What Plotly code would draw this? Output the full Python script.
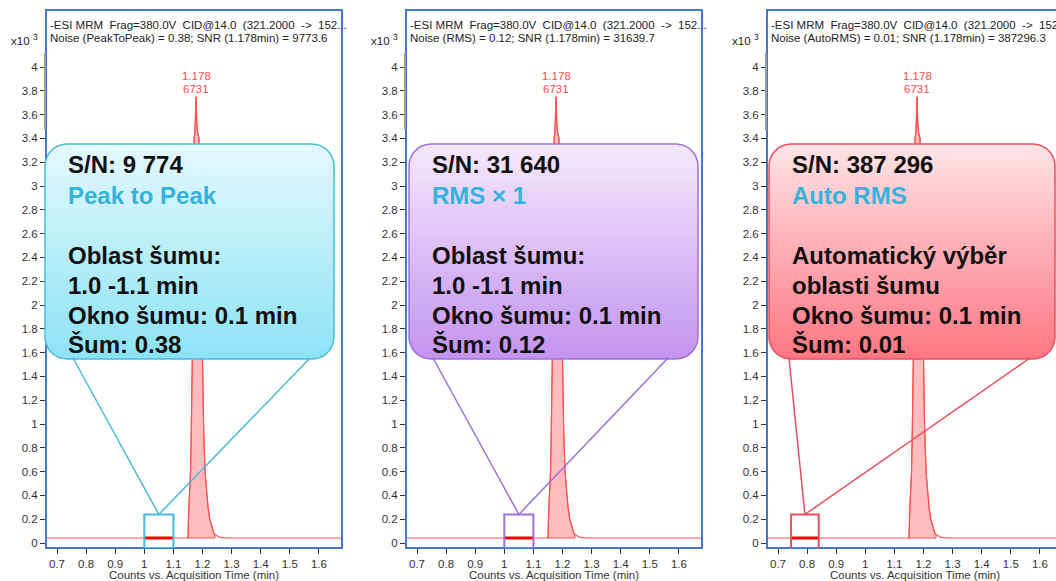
import numpy as np
import plotly.graph_objects as go

W, H = 1056, 581

# ---- chromatogram shared by the three panels (time in min, counts in x10^3) ----
time_min = [0.660, 1.150, 1.152, 1.156, 1.159, 1.162, 1.165, 1.168, 1.171, 1.174,
            1.176, 1.178, 1.180, 1.183, 1.188, 1.193, 1.199, 1.204, 1.209, 1.214,
            1.219, 1.225, 1.232, 1.238, 1.243, 1.250, 1.258, 1.268, 1.283, 1.300, 1.680]
counts_k = [0.042, 0.042, 0.250, 0.450, 0.600, 1.000, 1.550, 2.600, 3.400, 3.450,
            3.550, 3.750, 3.550, 3.450, 3.400, 2.500, 1.550, 0.950, 0.590, 0.420,
            0.300, 0.200, 0.130, 0.090, 0.070, 0.058, 0.050, 0.046, 0.043, 0.042, 0.042]
baseline_k = 0.042
integ_start, integ_end = 1.150, 1.243
rt_apex = 1.178
peak_area = 6731

x_ticks = [0.7, 0.8, 0.9, 1.0, 1.1, 1.2, 1.3, 1.4, 1.5, 1.6]
x_ticklabels = ["0.7", "0.8", "0.9", "1", "1.1", "1.2", "1.3", "1.4", "1.5", "1.6"]
y_ticks = [0, 0.2, 0.4, 0.6, 0.8, 1, 1.2, 1.4, 1.6, 1.8, 2, 2.2, 2.4, 2.6, 2.8,
           3, 3.2, 3.4, 3.6, 3.8, 4]
y_ticklabels = ["0", "0.2", "0.4", "0.6", "0.8", "1", "1.2", "1.4", "1.6", "1.8", "2",
                "2.2", "2.4", "2.6", "2.8", "3", "3.2", "3.4", "3.6", "3.8", "4"]

# ---- noise evaluation per panel ----
noise_methods = ["PeakToPeak", "RMS", "AutoRMS"]
method_titles = ["Peak to Peak", "RMS \u00d7 1", "Auto RMS"]
noise_values = [0.38, 0.12, 0.01]
snr_values = [9773.6, 31639.7, 387296.3]
noise_start = [1.0, 1.0, 0.745]
noise_end = [1.1, 1.1, 0.84]
noise_window = 0.1

# ---- geometry (pixels) ----
panel_left = [46, 406, 767]
panel_w = 296
panel_top, panel_bottom = 10, 548
px_per_min = 291.0
px_per_k = 119.0
x_lo = 0.7 - 11 / px_per_min
y_lo = -5 / px_per_k
y_hi = y_lo + (panel_bottom - panel_top) / px_per_k

box_left = [45, 409, 769]
box_right = [334, 698, 1055]
box_top, box_bottom, box_r = 144, 359, 22
tail_left = [73, 433, 789]
tail_right = [310, 668, 1030]
noise_box_top_k = 0.24

border_cols = ["#4cbadb", "#a070d6", "#e94f5e"]
grad_top = ["#e4f9fd", "#f4e8fc", "#ffe4e7"]
grad_bot = ["#8ce3f6", "#c393ef", "#ff7682"]
accent = "#35b3dc"
frame_col = "#4677cf"
trace_col = "#ff5050"
fill_col = "rgba(255,110,110,0.45)"
font_ui = "Liberation Sans"
small = 11.5


def to_px(i, x, y):
    return (panel_left[i] + (x - x_lo) * px_per_min,
            panel_bottom - (y - y_lo) * px_per_k)


def rounded_rect(x0, y0, x1, y1, r, n=14):
    xs, ys = [], []
    corners = [(x0 + r, y0 + r, 180, 270), (x1 - r, y0 + r, 270, 360),
               (x1 - r, y1 - r, 0, 90), (x0 + r, y1 - r, 90, 180)]
    for cx, cy, a0, a1 in corners:
        a = np.radians(np.linspace(a0, a1, n))
        xs.extend(cx + r * np.cos(a))
        ys.extend(cy + r * np.sin(a))
    xs.append(xs[0]); ys.append(ys[0])
    return xs, ys


def fmt_snr(v):
    return f"{round(v):,}".replace(",", " ")


def label(x, y, text, size=small, color="#222", xanchor="left", weight="normal", **kw):
    return dict(xref="x4", yref="y4", x=x, y=y, xanchor=xanchor, yanchor="middle",
                showarrow=False, text=text,
                font=dict(size=size, color=color, family=font_ui, weight=weight), **kw)


t = np.array(time_min)
c = np.array(counts_k)
mask = (t >= integ_start) & (t <= integ_end)
fill_x = list(t[mask]) + [integ_end, integ_start]
fill_y = list(c[mask]) + [baseline_k, baseline_k]

fig = go.Figure()
layout = dict(width=W, height=H, margin=dict(l=0, r=0, t=0, b=0),
              paper_bgcolor="white", plot_bgcolor="rgba(0,0,0,0)",
              showlegend=False, font=dict(family=font_ui, size=small, color="#333"))
shapes, annos = [], []

for i in range(3):
    sx = "" if i == 0 else str(i + 1)
    xa, ya = "x" + sx, "y" + sx
    right_px = min(panel_left[i] + panel_w, W)
    x_hi = x_lo + (right_px - panel_left[i]) / px_per_min
    layout["xaxis" + sx] = dict(
        domain=[panel_left[i] / W, right_px / W], range=[x_lo, x_hi], anchor=ya,
        tickvals=x_ticks, ticktext=x_ticklabels, ticks="outside", ticklen=5,
        tickcolor="#333", showgrid=False, zeroline=False, showline=False,
        tickfont=dict(size=small, color="#333"), fixedrange=True)
    layout["yaxis" + sx] = dict(
        domain=[1 - panel_bottom / H, 1 - panel_top / H], range=[y_lo, y_hi],
        anchor=xa, tickvals=y_ticks, ticktext=y_ticklabels, ticks="outside",
        ticklen=5, tickcolor="#333", showgrid=False, zeroline=False,
        showline=False, tickfont=dict(size=small, color="#333"), fixedrange=True)

    # integrated peak area and trace
    fig.add_trace(go.Scatter(x=fill_x, y=fill_y, xaxis=xa, yaxis=ya, mode="lines",
                             fill="toself", fillcolor=fill_col,
                             line=dict(color=trace_col, width=1), hoverinfo="skip"))
    fig.add_trace(go.Scatter(x=time_min, y=counts_k, xaxis=xa, yaxis=ya, mode="lines",
                             line=dict(color=trace_col, width=1.2), hoverinfo="skip"))
    # noise region on the baseline
    fig.add_trace(go.Scatter(x=[noise_start[i], noise_end[i]], y=[baseline_k, baseline_k],
                             xaxis=xa, yaxis=ya, mode="lines",
                             line=dict(color="#ff0000", width=3), hoverinfo="skip"))
    shapes.append(dict(type="rect", xref=xa, yref=ya, x0=noise_start[i], x1=noise_end[i],
                       y0=y_lo, y1=noise_box_top_k, line=dict(color=border_cols[i], width=2),
                       layer="above"))

    # peak label (retention time above area)
    apx, apy = to_px(i, rt_apex, max(counts_k))
    annos.append(label(apx, apy - 21, f"{rt_apex:.3f}", color="#ff4a4a", xanchor="center"))
    annos.append(label(apx, apy - 8, f"{peak_area}", color="#ff4a4a", xanchor="center"))

    # frame
    shapes.append(dict(type="rect", xref="x4", yref="y4", x0=panel_left[i],
                       x1=panel_left[i] + panel_w, y0=panel_top, y1=panel_bottom,
                       line=dict(color=frame_col, width=2), layer="below"))
    shapes.append(dict(type="line", xref="x4", yref="y4", x0=panel_left[i] - 1,
                       x1=panel_left[i] - 1, y0=53, y1=130,
                       line=dict(color="#9a9a9a", width=2), layer="below"))

    # header text
    hx = panel_left[i] + 2
    annos.append(label(hx, 25,
                       "-ESI MRM\u00a0 Frag=380.0V\u00a0 CID@14.0\u00a0 (321.2000\u00a0 ->\u00a0 152..."))
    annos.append(label(hx, 38,
                       f"Noise ({noise_methods[i]}) = {noise_values[i]:.2f}; "
                       f"SNR ({rt_apex:.3f}min) = {snr_values[i]:.1f}"))
    annos.append(label(panel_left[i] - 37, 41, "x10"))
    annos.append(label(panel_left[i] - 15, 37, "3", size=8.5))
    annos.append(label(panel_left[i] + panel_w / 2, 575, "Counts vs. Acquisition Time (min)",
                       color="#333", xanchor="center"))

    # callout box
    bx, by = rounded_rect(box_left[i], box_top, box_right[i], box_bottom, box_r)
    fig.add_trace(go.Scatter(x=bx, y=by, xaxis="x4", yaxis="y4", mode="lines",
                             fill="toself", line=dict(color=border_cols[i], width=1.5),
                             fillgradient=dict(type="vertical", start=box_top, stop=box_bottom,
                                               colorscale=[[0, grad_top[i]], [1, grad_bot[i]]]),
                             hoverinfo="skip"))
    tx, ty = to_px(i, (noise_start[i] + noise_end[i]) / 2, noise_box_top_k)
    for ax0 in (tail_left[i], tail_right[i]):
        shapes.append(dict(type="line", xref="x4", yref="y4", x0=ax0, y0=box_bottom - 1,
                           x1=tx, y1=ty, line=dict(color=border_cols[i], width=1.5),
                           layer="above"))

    if i < 2:
        body = ["Oblast \u0161umu:", f"{noise_start[i]:.1f} -{noise_end[i]:.1f} min"]
    else:
        body = ["Automatick\u00fd v\u00fdb\u011br", "oblasti \u0161umu"]
    lines = [(f"S/N: {fmt_snr(snr_values[i])}", "#111", 172),
             (method_titles[i], accent, 203),
             (body[0], "#111", 263), (body[1], "#111", 293),
             (f"Okno \u0161umu: {noise_window:.1f} min", "#111", 323),
             (f"\u0160um: {noise_values[i]:.2f}", "#111", 352)]
    for txt, col, base in lines:
        annos.append(label(box_left[i] + 21, base - 8, txt, size=24, color=col,
                           weight="bold"))

layout["xaxis4"] = dict(domain=[0, 1], range=[0, W], visible=False, anchor="y4",
                        fixedrange=True)
layout["yaxis4"] = dict(domain=[0, 1], range=[H, 0], visible=False, anchor="x4",
                        fixedrange=True)
layout["shapes"] = shapes
layout["annotations"] = annos
fig.update_layout(**layout)
fig.write_html("out.html")
